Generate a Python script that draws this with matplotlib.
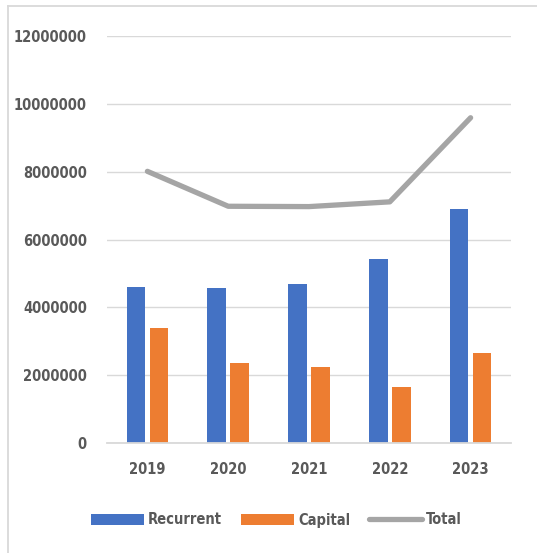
import numpy as np
import matplotlib.pyplot as plt
from matplotlib import font_manager
from matplotlib.lines import Line2D

# data
years = ['2019', '2020', '2021', '2022', '2023']
recurrent = [4600000, 4580000, 4700000, 5430000, 6900000]
capital = [3400000, 2360000, 2250000, 1660000, 2660000]
total = [8010000, 6980000, 6970000, 7110000, 9590000]
yticks = [0, 2000000, 4000000, 6000000, 8000000, 10000000, 12000000]

# look for a bold narrow / condensed face, else DejaVu Sans bold
fpath = None
for pref in ['liberationsansnarrow-bold', 'dejavusanscondensed-bold', 'condensed-bold',
             'condensed-semibold', 'narrow-bold', 'condensed']:
    for f in font_manager.fontManager.ttflist:
        nm = f.fname.lower().replace('_', '').replace(' ', '')
        if pref in nm and 'italic' not in nm and 'oblique' not in nm:
            fpath = f.fname
            break
    if fpath:
        break
if fpath:
    fp = font_manager.FontProperties(fname=fpath, size=10.5)
else:
    fp = font_manager.FontProperties(family='DejaVu Sans', weight='bold', size=9)
tc = '#595959'

fig = plt.figure(figsize=(5.37, 5.53), dpi=100)
ax = fig.add_axes([107/537, 1-443/553, 404/537, (443-36)/553])

x = np.arange(len(years))
w = 0.23
b1 = ax.bar(x - w/2 - 0.027, recurrent, w, color='#4472C4', label='Recurrent', zorder=2)
b2 = ax.bar(x + w/2 + 0.027, capital, w, color='#ED7D31', label='Capital', zorder=2)
l1, = ax.plot(x, total, color='#A5A5A5', lw=3.8, solid_capstyle='round', label='Total', zorder=3)

ax.set_xlim(-0.5, 4.5)
ax.set_ylim(0, 12000000)
ax.set_yticks(yticks)
ax.set_yticklabels([str(v) for v in yticks], fontproperties=fp, color=tc)
ax.set_xticks(x)
ax.set_xticklabels(years, fontproperties=fp, color=tc)
ax.grid(axis='y', color='#D9D9D9', lw=1, zorder=0)
for s in ['top', 'right', 'left']:
    ax.spines[s].set_visible(False)
ax.spines['bottom'].set_color('#D9D9D9')
ax.spines['bottom'].set_linewidth(1.3)
ax.tick_params(axis='both', length=0)
ax.tick_params(axis='y', pad=14.5)
ax.tick_params(axis='x', pad=14)

leg = fig.legend([b1, b2, l1], ['Recurrent', 'Capital', 'Total'], loc='center',
                 bbox_to_anchor=(0.515, 1-520/553), ncol=3, frameon=False,
                 handlelength=3.6, handleheight=0.85, handletextpad=0.3, columnspacing=1.3,
                 prop=fp)
for t in leg.get_texts():
    t.set_color(tc)

# outer frame (left and top edge)
fig.add_artist(Line2D([8/537, 8/537], [0, 1-6/553], transform=fig.transFigure, color='#D9D9D9', lw=1.3))
fig.add_artist(Line2D([8/537, 1], [1-6/553, 1-6/553], transform=fig.transFigure, color='#D9D9D9', lw=1.3))

fig.savefig('out.png', dpi=100)
